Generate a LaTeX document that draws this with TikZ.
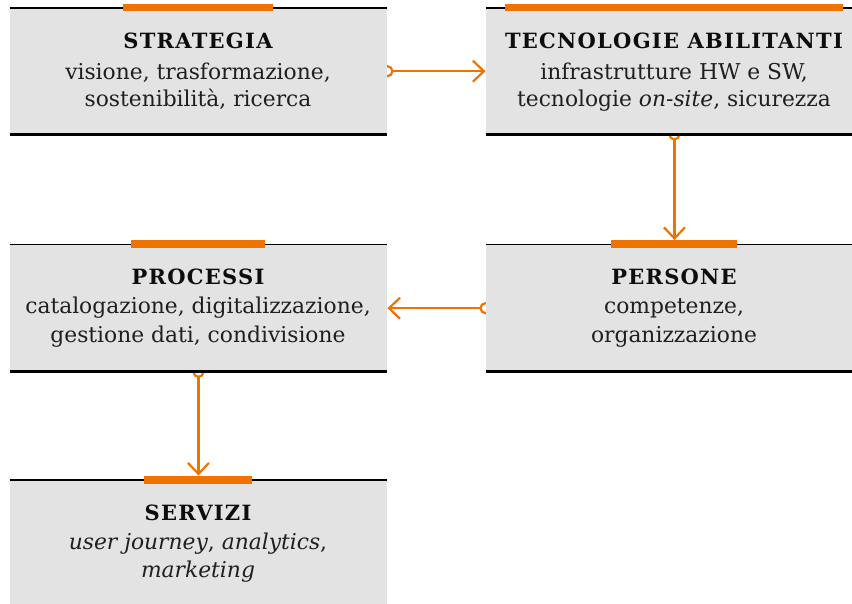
\documentclass[tikz,border=0pt]{standalone}
\usepackage{fontspec}
\setmainfont{DejaVu Serif}
\newfontfamily\titlefont[LetterSpace=6]{DejaVu Serif}
\usetikzlibrary{arrows.meta,backgrounds,calc}
\definecolor{org}{HTML}{EF7300}
\definecolor{boxgray}{HTML}{E3E3E3}
\tikzset{
  card/.style={fill=boxgray, anchor=north west, inner sep=0pt, minimum width=377.5pt, minimum height=126pt},
  ttl/.style={anchor=base, inner sep=0pt, text=black!95, font=\titlefont\bfseries\fontsize{21}{25}\selectfont},
  body/.style={anchor=base, inner sep=0pt, text=black!88, font=\fontsize{21.8}{26}\selectfont},
  conn/.style={draw=org, line width=2.2pt},
  arr/.style={conn, -{Straight Barb[length=11pt,width=21pt]}},
  thin/.style={line width=1.1pt, black},
  thick/.style={line width=3pt, black},
  bar/.style={fill=org},
}
\begin{document}
\begin{tikzpicture}[x=1pt,y=-1pt]
\useasboundingbox (0,0) rectangle (852,604);
% cards
\node[card] (s) at (9.5,8) {};
\node[card] (t) at (485.5,8) {};
\node[card, minimum height=127pt] (p) at (9.5,244.5) {};
\node[card, minimum height=127pt] (r) at (485.5,244.5) {};
\node[card, minimum height=124pt] (v) at (9.5,480) {};
% rules
\foreach \n in {s,t,p,r,v} \draw[thin] (\n.north west) -- (\n.north east);
\foreach \n in {s,t,p,r} \draw[thick] (\n.south west) -- (\n.south east);
% texts
\node[ttl] (sT) at (198,49) {STRATEGIA};
\node[body] (s1) at (198,79.5) {visione, trasformazione,};
\node[body] (s2) at (198,106.5) {sostenibilità, ricerca};
\node[ttl] (tT) at (674,49) {TECNOLOGIE ABILITANTI};
\node[body] (t1) at (674,79.5) {infrastrutture HW e SW,};
\node[body] (t2) at (674,106.5) {tecnologie \textit{on-site}, sicurezza};
\node[ttl] (pT) at (198,285) {PROCESSI};
\node[body] (p1) at (198,314) {catalogazione, digitalizzazione,};
\node[body] (p2) at (198,342) {gestione dati, condivisione};
\node[ttl] (rT) at (674,285) {PERSONE};
\node[body] (r1) at (674,314) {competenze,};
\node[body] (r2) at (674,342) {organizzazione};
\node[ttl] (vT) at (198,520.5) {SERVIZI};
\node[body] (v1) at (198,549) {\textit{user journey}, \textit{analytics},};
\node[body] (v2) at (198,577) {\textit{marketing}};
% orange bars
\foreach \n/\m in {s/sT,t/tT,p/pT,r/rT,v/vT}
  \fill[bar] ($(\m.west |- \n.north)+(0,-4)$) rectangle ($(\m.east |- \n.north)+(0,3.5)$);
% connectors
\begin{scope}[on background layer]
\draw[conn] (s.east) circle[radius=5pt];
\draw[arr] ($(s.east)+(5,0)$) -- (t.west);
\draw[conn] (t.south) circle[radius=5pt];
\draw[arr] ($(t.south)+(0,5)$) -- ($(r.north)+(0,-4.5)$);
\draw[conn] (r.west) circle[radius=5pt];
\draw[arr] ($(r.west)+(-5,0)$) -- (p.east);
\draw[conn] (p.south) circle[radius=5pt];
\draw[arr] ($(p.south)+(0,5)$) -- ($(v.north)+(0,-4.5)$);
\end{scope}
\end{tikzpicture}
\end{document}
